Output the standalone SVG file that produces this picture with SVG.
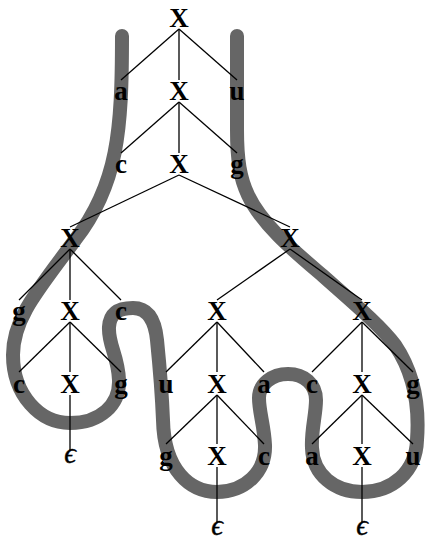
<svg xmlns="http://www.w3.org/2000/svg" width="428" height="540" viewBox="0 0 428 540">
<style>
.t{font-family:"Liberation Serif","Times New Roman",serif;font-weight:bold;font-size:27px;text-anchor:middle;fill:#000}
.e{font-family:"Liberation Serif","DejaVu Serif",serif;font-style:italic;font-size:29px;text-anchor:middle;fill:#000;stroke:#000;stroke-width:0.4}
.c line{stroke:#000;stroke-width:1.3}
.strand{fill:none;stroke:#666;stroke-width:14;stroke-linecap:round;stroke-linejoin:round}
</style>
<rect width="428" height="540" fill="#fff"/>
<path class="strand" d="M122 36 C122 130 118 185 75 240 C38 290 13 318 13 355 C13 395 40 423 70 423 C100 423 120 405 119 380 C118 355 108 345 109 327 C110 312 120 308 133 308 C148 308 155 320 157 340 C160 370 162 395 163 420 C164 470 190 492 217 492 C245 492 266 472 265 445 C264 425 259 412 259 398 C259 384 272 374 288 374 C304 374 316 384 316 400 C316 415 311 430 312 448 C313 475 335 492 362 492 C392 492 416 472 417 440 C420 400 412 370 395 345 C380 325 350 300 322 275 C295 252 262 225 248 195 C240 178 237 160 237 130 L237 36"/>
<g id="connectors" class="c">
<line x1="179" y1="29" x2="121" y2="80"/><line x1="179" y1="29" x2="179" y2="80"/><line x1="179" y1="29" x2="237" y2="80"/>
<line x1="179" y1="102" x2="121" y2="153"/><line x1="179" y1="102" x2="179" y2="153"/><line x1="179" y1="102" x2="237" y2="153"/>
<line x1="179" y1="175" x2="70" y2="227"/><line x1="179" y1="175" x2="290" y2="227"/>
<line x1="70" y1="249" x2="19" y2="300"/><line x1="70" y1="249" x2="70" y2="300"/><line x1="70" y1="249" x2="121" y2="300"/>
<line x1="70" y1="322" x2="19" y2="372"/><line x1="70" y1="322" x2="70" y2="372"/><line x1="70" y1="322" x2="121" y2="372"/>
<line x1="70" y1="395" x2="70" y2="450"/>
<line x1="290" y1="249" x2="217" y2="300"/><line x1="290" y1="249" x2="362" y2="300"/>
<line x1="217" y1="322" x2="166" y2="372"/><line x1="217" y1="322" x2="217" y2="372"/><line x1="217" y1="322" x2="264" y2="372"/>
<line x1="217" y1="395" x2="166" y2="444"/><line x1="217" y1="395" x2="217" y2="444"/><line x1="217" y1="395" x2="264" y2="444"/>
<line x1="217" y1="467" x2="217" y2="522"/>
<line x1="362" y1="322" x2="312" y2="372"/><line x1="362" y1="322" x2="362" y2="372"/><line x1="362" y1="322" x2="413" y2="372"/>
<line x1="362" y1="395" x2="312" y2="444"/><line x1="362" y1="395" x2="362" y2="444"/><line x1="362" y1="395" x2="413" y2="444"/>
<line x1="362" y1="467" x2="362" y2="522"/>
</g>
<g id="n-root"><text class="t" x="179" y="27">X</text></g>
<g id="n-a1"><text class="t" x="121" y="100">a</text></g>
<g id="n-x1"><text class="t" x="179" y="100">X</text></g>
<g id="n-u1"><text class="t" x="237" y="100">u</text></g>
<g id="n-c2"><text class="t" x="121" y="173">c</text></g>
<g id="n-x2"><text class="t" x="179" y="173">X</text></g>
<g id="n-g2"><text class="t" x="237" y="173">g</text></g>
<g id="n-xl3"><text class="t" x="70" y="246.5">X</text></g>
<g id="n-xr3"><text class="t" x="290" y="246.5">X</text></g>
<g id="n-g4l"><text class="t" x="19" y="320">g</text></g>
<g id="n-x4l"><text class="t" x="70" y="320">X</text></g>
<g id="n-c4l"><text class="t" x="121" y="320">c</text></g>
<g id="n-x4m"><text class="t" x="217" y="320">X</text></g>
<g id="n-x4r"><text class="t" x="362" y="320">X</text></g>
<g id="n-c5l"><text class="t" x="19" y="392.5">c</text></g>
<g id="n-x5l"><text class="t" x="70" y="392.5">X</text></g>
<g id="n-g5l"><text class="t" x="121" y="392.5">g</text></g>
<g id="n-u5m"><text class="t" x="166" y="392.5">u</text></g>
<g id="n-x5m"><text class="t" x="217" y="392.5">X</text></g>
<g id="n-a5m"><text class="t" x="264" y="392.5">a</text></g>
<g id="n-c5r"><text class="t" x="312" y="392.5">c</text></g>
<g id="n-x5r"><text class="t" x="362" y="392.5">X</text></g>
<g id="n-g5r"><text class="t" x="413" y="392.5">g</text></g>
<g id="n-e6l"><text class="e" x="70" y="463">ϵ</text></g>
<g id="n-g6m"><text class="t" x="166" y="464.5">g</text></g>
<g id="n-x6m"><text class="t" x="217" y="464.5">X</text></g>
<g id="n-c6m"><text class="t" x="264" y="464.5">c</text></g>
<g id="n-a6r"><text class="t" x="312" y="464.5">a</text></g>
<g id="n-x6r"><text class="t" x="362" y="464.5">X</text></g>
<g id="n-u6r"><text class="t" x="413" y="464.5">u</text></g>
<g id="n-e7m"><text class="e" x="217" y="535">ϵ</text></g>
<g id="n-e7r"><text class="e" x="362" y="535">ϵ</text></g>
</svg>
